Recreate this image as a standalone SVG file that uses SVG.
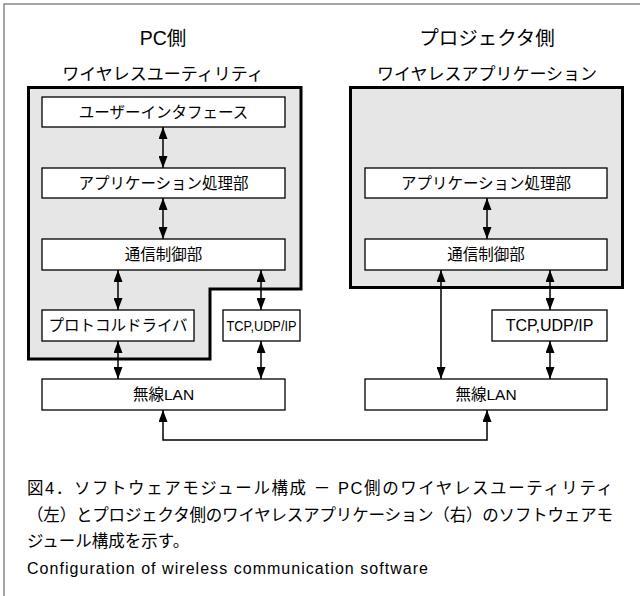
<svg xmlns="http://www.w3.org/2000/svg" width="640" height="596" viewBox="0 0 640 596">
<style>
text{font-family:"Liberation Sans","Noto Sans CJK JP",sans-serif;fill:#000}
.t1{font-size:19.5px;text-anchor:middle}
.t2{font-size:17px;text-anchor:middle}
.bt{font-size:15.5px;text-anchor:middle}
.box{fill:#fff;stroke:#000;stroke-width:1.3}
.grp{fill:#e6e6e6;stroke:#000;stroke-width:3}
.cap{font-size:16.5px}
.con line,.con path{stroke:#000;stroke-width:1.5;fill:none;marker-start:url(#ah);marker-end:url(#ah)}
</style>
<defs>
<marker id="ah" markerUnits="userSpaceOnUse" markerWidth="12" markerHeight="9" refX="12" refY="4.5" orient="auto-start-reverse" viewBox="0 0 12 9">
<path d="M0,0 L12,4.5 L0,9 Z" fill="#000"/>
</marker>
</defs>
<rect x="4" y="4" width="660" height="620" fill="#fff" stroke="#888" stroke-width="1.5"/>
<text class="t1" x="163" y="45">PC側</text>
<text class="t2" x="163" y="80">ワイヤレスユーティリティ</text>
<text class="t1" x="487" y="45">プロジェクタ側</text>
<text class="t2" x="487" y="80">ワイヤレスアプリケーション</text>
<g id="pc-group"><path class="grp" d="M28.5,87.5 H301 V289 H210 V359 H28.5 Z"/></g>
<g id="pj-group"><rect class="grp" x="350.5" y="87.5" width="272" height="200"/></g>
<g id="pc-ui"><rect class="box" x="42" y="97" width="243" height="30"/><text class="bt" x="163.5" y="117.5">ユーザーインタフェース</text></g>
<g id="pc-app"><rect class="box" x="42" y="168" width="243" height="30"/><text class="bt" x="163.5" y="188.5">アプリケーション処理部</text></g>
<g id="pc-comm"><rect class="box" x="42" y="239" width="243" height="31"/><text class="bt" x="163.5" y="260">通信制御部</text></g>
<g id="pc-drv"><rect class="box" x="42" y="310" width="152" height="31"/><text class="bt" x="118" y="331">プロトコルドライバ</text></g>
<g id="pc-tcp"><rect class="box" x="223" y="310" width="77" height="31"/><text class="bt" x="261.5" y="331" textLength="70" lengthAdjust="spacingAndGlyphs">TCP,UDP/IP</text></g>
<g id="pc-lan"><rect class="box" x="42" y="379" width="243" height="31"/><text class="bt" x="163.5" y="400">無線LAN</text></g>
<g id="pj-app"><rect class="box" x="365" y="168" width="242" height="30"/><text class="bt" x="486" y="188.5">アプリケーション処理部</text></g>
<g id="pj-comm"><rect class="box" x="365" y="239" width="242" height="31"/><text class="bt" x="486" y="260">通信制御部</text></g>
<g id="pj-tcp"><rect class="box" x="492" y="310" width="115" height="31"/><text class="bt" x="549.5" y="331" style="font-size:16px">TCP,UDP/IP</text></g>
<g id="pj-lan"><rect class="box" x="365" y="379" width="242" height="31"/><text class="bt" x="486" y="400">無線LAN</text></g>
<g id="connectors" class="con">
<line x1="163" y1="127" x2="163" y2="168"/>
<line x1="163" y1="198" x2="163" y2="239"/>
<line x1="118" y1="270" x2="118" y2="310"/>
<line x1="118" y1="341" x2="118" y2="379"/>
<line x1="261" y1="270" x2="261" y2="310"/>
<line x1="261" y1="341" x2="261" y2="379"/>
<line x1="487" y1="198" x2="487" y2="239"/>
<line x1="441" y1="270" x2="441" y2="379"/>
<line x1="550" y1="270" x2="550" y2="310"/>
<line x1="550" y1="341" x2="550" y2="379"/>
<path d="M163,410 V440 H487 V410"/>
</g>
<text class="cap" x="27" y="494" textLength="586" lengthAdjust="spacing">図4．ソフトウェアモジュール構成 － PC側のワイヤレスユーティリティ</text>
<text class="cap" x="27" y="521" textLength="586" lengthAdjust="spacing">（左）とプロジェクタ側のワイヤレスアプリケーション（右）のソフトウェアモ</text>
<text class="cap" x="27" y="547">ジュール構成を示す。</text>
<text class="cap" x="27" y="574" textLength="401" lengthAdjust="spacing" style="font-size:16px">Configuration of wireless communication software</text>
</svg>
